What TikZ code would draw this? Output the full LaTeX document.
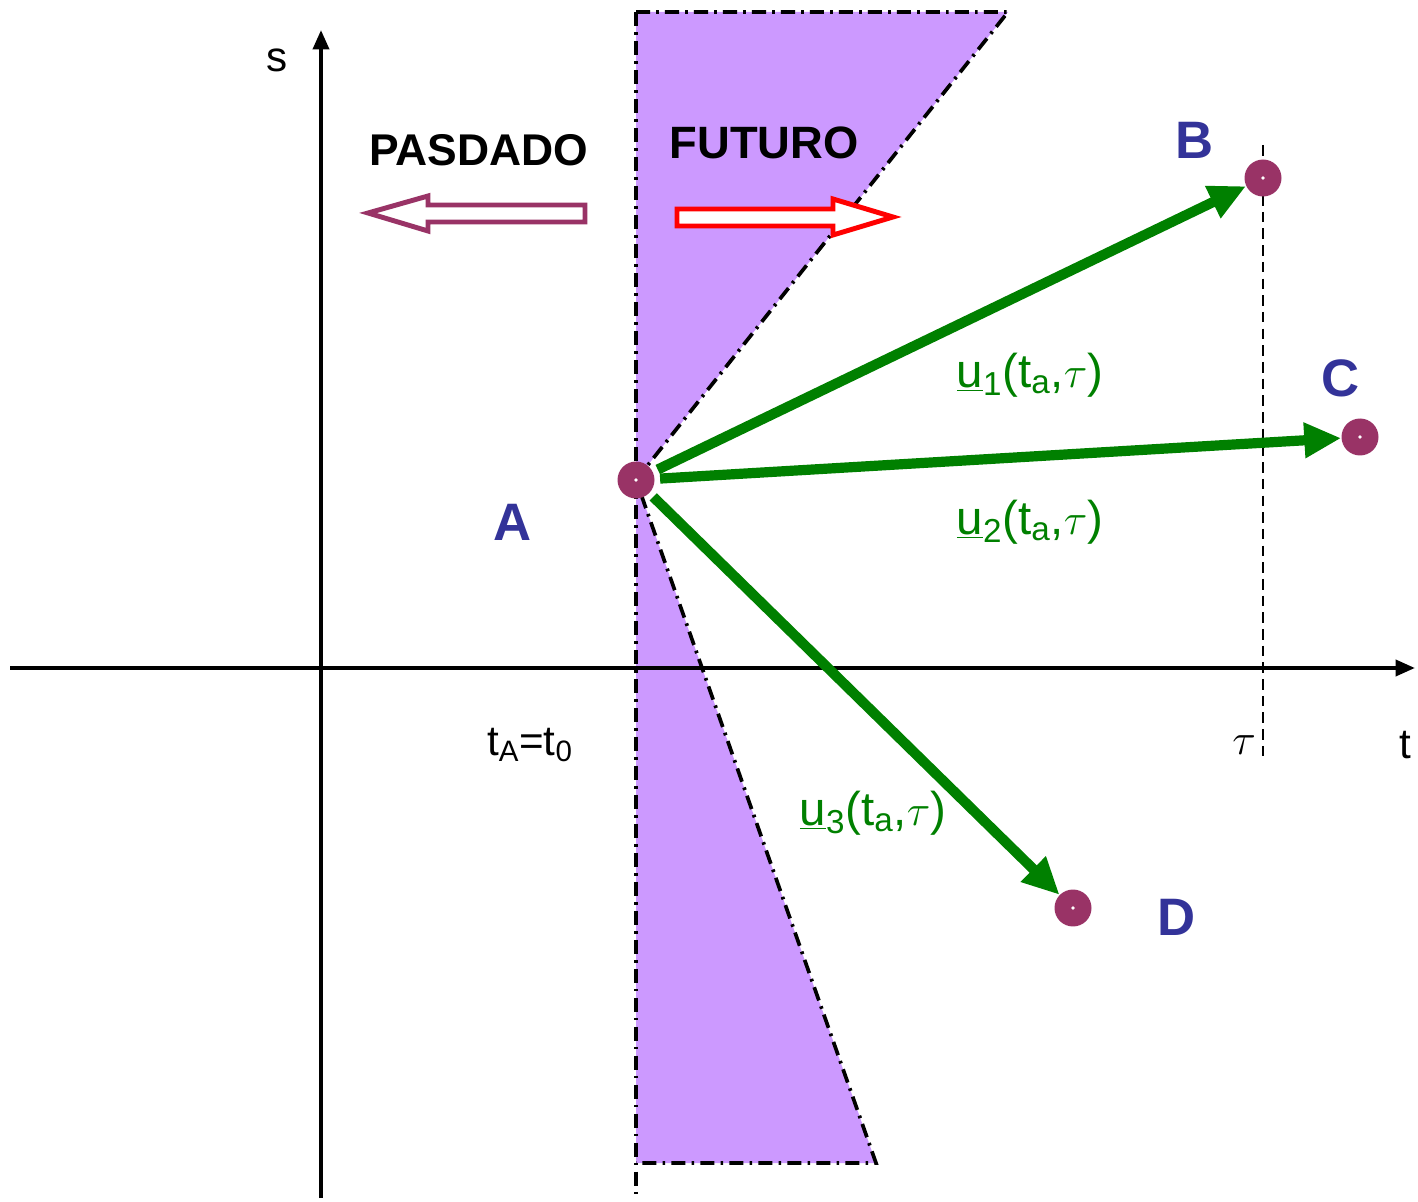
\documentclass[tikz,border=0pt]{standalone}
\usepackage{fontspec}
\setmainfont{Liberation Sans}
\usepackage{xcolor}
\usetikzlibrary{arrows.meta, calc}
\definecolor{lila}{HTML}{CC99FF}
\definecolor{punto}{HTML}{993366}
\definecolor{azul}{HTML}{333399}
\definecolor{verde}{HTML}{008000}

\begin{document}
\begin{tikzpicture}[x=0.02cm, y=-0.02cm,
	eje/.style={line width=2.3pt, -{Triangle[length=11pt,width=9pt]}},
	raya/.style={line width=2.1pt, dash pattern=on 8pt off 3.5pt on 1.5pt off 3.5pt},
	pto/.style={circle, fill=punto, minimum size=0.74cm, inner sep=0pt,
		path picture={\fill[white] (path picture bounding box.center) circle (1.1pt);}},
	letra/.style={text=azul, font=\fontsize{30}{34}\selectfont\bfseries},
	vec/.style={verde, line width=5.8pt, -{Triangle[length=21pt,width=19pt]}},
	etq/.style={text=verde, font=\fontsize{27}{30}\selectfont},
	txt/.style={font=\fontsize{24}{28}\selectfont}]
	\useasboundingbox (0,0) rectangle (1418,1202);
	% conos
	\fill[lila] (636,12) -- (1008,12) -- (636,480) -- cycle;
	\fill[lila] (636,480) -- (876,1163) -- (636,1163) -- cycle;
	\draw[raya] (636,12) -- (636,1198);
	\draw[raya] (636,12) -- (1008,12) -- (636,480) -- (876,1163) -- (636,1163);
	% ejes
	\coordinate (t0) at (10,668);
	\coordinate (t1) at (1415,668);
	\coordinate (s0) at (321,1198);
	\coordinate (s1) at (321,30);
	\draw[eje] (t0) -- (t1);
	\draw[eje] (s0) -- (s1);
	\node[txt] (s) at (277,60) {s};
	\node[txt] (t) at (1405,745) {t};
	\node[txt] (ta) at (530,745) {t\textsubscript{A}=t\textsubscript{0}};
	\node[txt] (tau) at (1244,745) {$\tau$};
	% tau
	\coordinate (d0) at (1263,145);
	\coordinate (d1) at (1263,762);
	\draw[line width=1.6pt, dash pattern=on 6pt off 3.5pt] (d0) -- (d1);
	% pasado y futuro
	\node[txt, font=\fontsize{25.3}{28}\selectfont\bfseries] (pas) at (479,150) {PASDADO};
	\node[txt, font=\fontsize{25.8}{28}\selectfont\bfseries] (fut) at (764,143) {FUTURO};
	\draw[punto, line width=2.8pt, fill=white] (585,205) -- (428,205) -- (428,196) -- (368,213)
		-- (428,231) -- (428,222) -- (585,222) -- cycle;
	\draw[red, line width=2.8pt, fill=white] (677,209) -- (833,209) -- (833,199) -- (893,217)
		-- (833,235) -- (833,226) -- (677,226) -- cycle;
	% puntos
	\node[pto] (A) at (636,480) {};
	\node[pto] (B) at (1263,178) {};
	\node[pto] (C) at (1360,437) {};
	\node[pto] (D) at (1073,908) {};
	\node[letra] (la) at (513,522) {A};
	\node[letra] (lb) at (1195,140) {B};
	\node[letra] (lc) at (1341,378) {C};
	\node[letra] (ld) at (1177,917) {D};
	% vectores
	\draw[vec, shorten <=3pt] (A) -- (B);
	\draw[vec, shorten <=3pt] (A) -- (C);
	\draw[vec, shorten <=3pt] (A) -- (D);
	\node[etq] (u1) at (1030,375) {\underline{u}\textsubscript{1}(t\textsubscript{a},$\tau$)};
	\node[etq] (u2) at (1030,522) {\underline{u}\textsubscript{2}(t\textsubscript{a},$\tau$)};
	\node[etq] (u3) at (873,813) {\underline{u}\textsubscript{3}(t\textsubscript{a},$\tau$)};
\end{tikzpicture}
\end{document}
